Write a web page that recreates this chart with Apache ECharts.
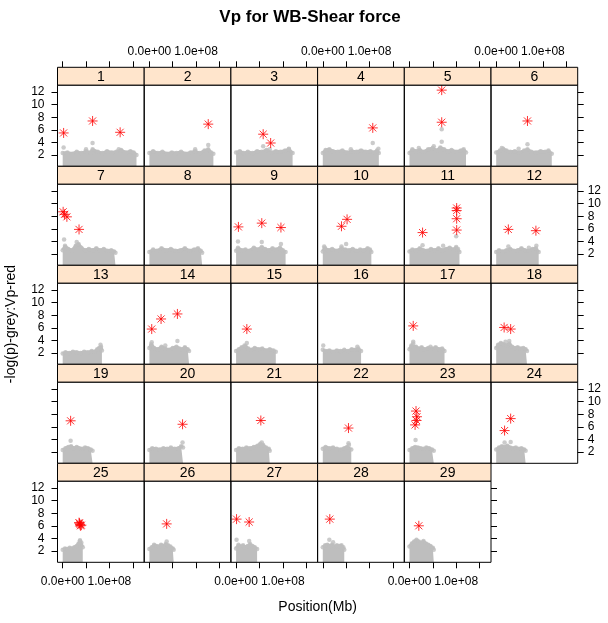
<!DOCTYPE html>
<html><head><meta charset="utf-8">
<script src="https://cdn.jsdelivr.net/npm/echarts@6/dist/echarts.min.js"></script>
<style>html,body{margin:0;padding:0;background:#fff}#c{width:608px;height:623px}</style>
</head><body><div id="c"></div>
<script>
// ---------- DATA ----------
const chartTitle = 'Vp for WB-Shear force';
const xTitle = 'Position(Mb)';
const yTitle = '-log(p)-grey:Vp-red';
const chromLabels = ['1','2','3','4','5','6','7','8','9','10','11','12','13','14','15','16','17','18','19','20','21','22','23','24','25','26','27','28','29'];
const chromLengthMb = [158,137,121,120,121,119,113,113,106,104,107,91,84,85,85,82,75,66,64,72,72,61,52,63,43,52,45,46,52];
const xTickValues = [0,50,100,150];   // Mb
const xLabelValues = [0,100];         // Mb -> 0.0e+00, 1.0e+08
const yTickValues = [2,4,6,8,10,12];

// upper edge of the dense grey cloud, [Mb, -log10 p]
const greyTop = [
 [[0,2.3],[10,2.4],[20,2.2],[30,2.5],[40,2.3],[50,2.6],[60,2.4],[64,2.9],[75,2.5],[85,2.3],[95,2.6],[105,2.4],[115,2.5],[125,2.8],[135,2.4],[145,2.6],[152,2.4],[158,2.0]],
 [[0,2.3],[8,2.6],[18,2.3],[28,2.5],[38,2.2],[48,2.4],[58,2.3],[68,2.5],[78,2.2],[88,2.4],[98,2.6],[108,2.3],[118,2.7],[126,2.9],[132,2.4],[137,2.2]],
 [[0,2.4],[8,2.6],[16,2.3],[25,2.5],[35,2.3],[45,2.6],[55,2.5],[65,2.8],[75,2.4],[85,2.6],[95,2.5],[105,2.7],[113,2.9],[121,2.3]],
 [[0,2.3],[6,2.8],[14,2.9],[22,2.6],[32,2.5],[42,2.7],[52,2.4],[62,2.6],[72,2.5],[82,2.7],[92,2.5],[102,2.6],[110,2.4],[116,2.7],[120,2.3]],
 [[0,2.3],[6,2.9],[14,2.6],[22,2.8],[30,2.5],[40,2.9],[50,3.1],[58,2.7],[66,3.2],[74,2.9],[82,2.6],[90,2.8],[100,2.5],[110,2.7],[116,2.9],[121,2.4]],
 [[0,2.4],[8,2.7],[15,3.0],[22,2.7],[30,2.5],[40,2.6],[50,2.4],[60,2.7],[67,2.9],[75,2.5],[85,2.4],[95,2.6],[105,2.5],[112,2.7],[119,2.2]],
 [[0,2.6],[5,3.3],[12,2.8],[20,2.6],[28,3.3],[34,3.6],[40,3.0],[48,2.6],[56,2.8],[64,2.6],[72,2.9],[80,2.6],[88,2.8],[96,2.5],[104,2.6],[110,2.4],[113,2.2]],
 [[0,2.3],[8,2.7],[16,2.5],[26,2.9],[36,2.6],[46,2.8],[56,2.5],[66,2.6],[76,2.9],[86,2.5],[96,2.7],[104,2.9],[110,2.5],[113,2.2]],
 [[0,2.5],[4,3.0],[12,2.6],[20,2.7],[28,2.5],[38,3.0],[46,2.7],[55,3.1],[62,2.8],[70,2.6],[78,2.9],[86,2.7],[94,3.0],[100,2.6],[106,2.3]],
 [[0,2.4],[4,3.0],[12,2.6],[20,2.8],[30,2.5],[40,2.9],[48,2.7],[56,2.6],[64,2.8],[72,2.5],[80,2.7],[88,2.6],[96,2.9],[101,2.7],[104,2.3]],
 [[0,2.4],[6,2.7],[14,2.6],[22,2.9],[30,2.6],[38,2.5],[46,2.8],[54,2.6],[62,2.9],[70,2.6],[78,2.8],[86,3.0],[94,2.7],[100,3.1],[104,2.8],[107,2.3]],
 [[0,2.3],[6,2.6],[14,2.4],[22,2.6],[30,2.8],[38,2.5],[46,2.6],[54,2.9],[62,2.6],[70,2.5],[78,2.8],[85,2.9],[91,2.3]],
 [[0,1.9],[6,2.1],[14,2.0],[22,2.2],[30,2.1],[38,2.0],[46,2.2],[54,2.1],[62,2.3],[68,2.2],[74,2.6],[78,2.8],[82,3.0],[84,2.4]],
 [[0,2.8],[4,3.4],[10,2.8],[18,2.6],[26,3.0],[34,2.7],[42,2.5],[50,2.8],[58,3.0],[64,2.7],[70,2.6],[76,2.9],[82,2.6],[85,2.3]],
 [[0,2.3],[6,2.6],[12,2.9],[20,3.1],[26,2.7],[32,2.5],[40,2.8],[48,2.6],[56,2.7],[64,2.4],[72,2.6],[80,2.4],[85,2.2]],
 [[0,2.5],[6,2.3],[14,2.4],[22,2.2],[30,2.4],[38,2.3],[46,2.5],[54,2.3],[62,2.6],[70,2.5],[76,2.7],[82,2.3]],
 [[0,2.6],[4,3.2],[8,3.5],[14,3.0],[20,2.7],[26,2.9],[32,2.6],[40,2.8],[48,2.7],[56,2.9],[64,2.6],[70,2.7],[75,2.3]],
 [[0,2.8],[4,3.3],[10,3.6],[16,3.4],[22,3.2],[28,3.5],[34,3.0],[40,2.8],[46,2.9],[52,2.7],[58,2.8],[63,2.6],[66,2.3]],
 [[0,2.3],[6,2.6],[12,2.8],[18,2.9],[24,2.6],[30,2.8],[36,2.6],[42,2.5],[48,2.7],[54,2.6],[60,2.4],[64,2.2]],
 [[0,2.3],[6,2.6],[14,2.5],[22,2.4],[30,2.6],[38,2.5],[46,2.7],[54,2.5],[62,2.6],[68,2.9],[72,2.7]],
 [[0,2.3],[6,2.6],[14,2.5],[22,2.7],[30,2.6],[38,2.8],[46,3.0],[52,3.3],[58,3.1],[64,2.7],[70,2.5],[72,2.2]],
 [[0,2.5],[6,2.8],[14,2.6],[22,2.7],[30,2.5],[38,2.4],[46,2.6],[52,2.8],[56,3.1],[61,2.4]],
 [[0,2.3],[6,2.6],[12,2.8],[18,2.7],[24,2.6],[30,2.5],[36,2.7],[42,2.6],[48,2.4],[52,2.2]],
 [[0,2.4],[6,2.7],[12,2.9],[18,2.8],[24,3.0],[30,2.7],[36,2.6],[42,2.7],[48,2.5],[54,2.6],[60,2.4],[63,2.2]],
 [[0,2.2],[5,2.4],[10,2.3],[15,2.5],[20,2.4],[25,2.6],[30,2.8],[34,3.2],[37,3.6],[40,3.3],[43,2.6]],
 [[0,2.3],[5,2.6],[10,3.0],[15,2.8],[20,2.7],[25,3.0],[30,2.8],[35,3.1],[40,2.9],[45,2.7],[50,2.4],[52,2.2]],
 [[0,2.4],[5,3.0],[10,2.7],[15,2.9],[20,2.6],[25,2.8],[30,3.1],[35,2.8],[40,2.6],[45,2.3]],
 [[0,2.6],[5,2.9],[10,3.0],[15,2.8],[20,3.0],[25,2.7],[30,2.9],[35,2.8],[40,2.9],[44,2.6],[46,2.2]],
 [[0,2.7],[5,3.2],[10,3.5],[15,3.8],[20,3.5],[25,3.3],[30,3.6],[35,3.2],[40,3.0],[45,2.8],[50,2.5],[52,2.2]]
];

// isolated grey SNPs above the cloud, [Mb, -log10 p]
const greyOutliers = [
 [[2,3.2],[64,3.9],[50,2.9],[120,2.9]],
 [[126,3.6],[98,2.9]],
 [[58,3.4],[72,2.9],[113,3.0]],
 [[107,3.9],[119,3.0],[60,2.9]],
 [[69,4.1],[69,6.1],[20,3.1],[52,3.4]],
 [[67,3.7],[12,3.1],[48,3.0]],
 [[3,4.3],[30,3.9]],
 [],
 [[4,4.0],[55,3.9],[96,3.6]],
 [[3,3.2],[50,3.6],[40,3.2]],
 [[28,3.4],[100,4.8],[72,3.3]],
 [[26,3.2],[86,3.3],[70,3.0]],
 [[81,3.3]],
 [[5,3.7],[60,3.9],[34,3.2]],
 [[23,3.6],[18,3.2]],
 [[1,3.2],[74,3.0]],
 [[8,3.8],[45,3.0]],
 [[28,3.9],[20,3.8]],
 [[17,3.8]],
 [[71,3.5]],
 [[55,3.5]],
 [[55,3.4]],
 [[13,3.9]],
 [[18,3.5],[31,3.6]],
 [[37,3.7]],
 [[37,3.5]],
 [[1,3.8],[28,3.6]],
 [[14,3.8],[22,3.4]],
 []
];

// red Vp hits, [Mb, -log10 p]
const redHits = [
 [[2,5.5],[64,7.4],[123,5.6]],
 [[126,6.9]],
 [[58,5.3],[74,3.9]],
 [[107,6.3]],
 [[69,12.3],[69,7.2]],
 [[67,7.4]],
 [[1,8.7],[4,8.3],[9,7.9],[35,5.9]],
 [],
 [[5,6.3],[55,6.9],[96,6.2]],
 [[40,6.4],[52,7.5]],
 [[28,5.4],[101,9.3],[101,8.9],[101,7.6],[101,5.8]],
 [[26,5.9],[85,5.7]],
 [],
 [[5,5.8],[25,7.4],[60,8.2]],
 [[23,5.8]],
 [],
 [[8,6.3]],
 [[17,6.05],[31,5.8]],
 [[17,6.95]],
 [[71,6.4]],
 [[53,7.0]],
 [[55,5.8]],
 [[14,8.5],[16,7.6],[15,7.0],[12,6.3]],
 [[18,5.4],[31,7.3]],
 [[35,6.5],[37,6.2],[38,6.0],[40,6.1],[36,6.4]],
 [[37,6.3]],
 [[1,7.06],[28,6.6]],
 [[15,7.06]],
 [[20,6.0]]
];

// ---------- LAYOUT ----------
const FONT = '"Liberation Sans", Arial, Helvetica, sans-serif';
const PL = 57.5, PW = 86.7, ST = 67.3, SH = 17.8, PH = 81.2, RP = SH + PH, NCOL = 6;
const XMIN = -11.1, XMAX = 174.5, YMIN = 0.2, YMAX = 13.1;
const GREY = '#bebebe', RED = '#ff0000', STRIP = '#ffe5cc';
const STAR = 'path://M0,5L10,5M5,0L5,10M1.46,1.46L8.54,8.54M1.46,8.54L8.54,1.46';

function sci(v) {
  const s = (v * 1e6).toExponential(1);
  let parts = s.split('e');
  let e = parts[1];
  const sign = e[0] === '-' ? '-' : '+';
  e = e.replace(/[+-]/, '');
  if (e.length < 2) e = '0' + e;
  return parts[0] + 'e' + sign + e;
}

const grid = [], xAxis = [], yAxis = [], series = [], graphic = [];
const tickStyle = { color: '#000', width: 1 };
const labStyle = { fontSize: 12, color: '#000', fontFamily: FONT };
const noLine = { show: false, onZero: false };

chromLabels.forEach((lab, i) => {
  const r = Math.floor(i / NCOL), c = i % NCOL;
  const left = PL + c * PW, stripTop = ST + r * RP, top = stripTop + SH;
  grid.push({ left: left, top: top, width: PW, height: PH, show: false, outerBoundsMode: 'none' });

  const xi = xAxis.length;
  xAxis.push({ gridIndex: i, type: 'value', min: XMIN, max: XMAX, position: 'bottom',
    axisLine: noLine, splitLine: { show: false },
    axisTick: { show: r === 4, customValues: xTickValues, length: 6, lineStyle: tickStyle },
    axisLabel: Object.assign({ show: r === 4 && c % 2 === 0, customValues: xLabelValues, formatter: sci, margin: 13 }, labStyle) });
  if (r === 0) {
    xAxis.push({ gridIndex: i, type: 'value', min: XMIN, max: XMAX, position: 'top', offset: SH,
      axisLine: noLine, splitLine: { show: false },
      axisTick: { show: true, customValues: xTickValues, length: 6, lineStyle: tickStyle },
      axisLabel: Object.assign({ show: c % 2 === 1, customValues: xLabelValues, formatter: sci, margin: 10 }, labStyle) });
  }
  const yi = yAxis.length;
  yAxis.push({ gridIndex: i, type: 'value', min: YMIN, max: YMAX, position: 'left',
    axisLine: noLine, splitLine: { show: false },
    axisTick: { show: c === 0, customValues: yTickValues, length: 6, lineStyle: tickStyle },
    axisLabel: Object.assign({ show: c === 0 && r % 2 === 0, customValues: yTickValues, margin: 13 }, labStyle) });
  if (c === NCOL - 1 || i === chromLabels.length - 1) {
    yAxis.push({ gridIndex: i, type: 'value', min: YMIN, max: YMAX, position: 'right',
      axisLine: noLine, splitLine: { show: false },
      axisTick: { show: true, customValues: yTickValues, length: 6, lineStyle: tickStyle },
      axisLabel: Object.assign({ show: c === NCOL - 1 && r % 2 === 1, customValues: yTickValues, margin: 10 }, labStyle) });
  }

  series.push({ type: 'line', xAxisIndex: xi, yAxisIndex: yi, data: greyTop[i], symbol: 'none',
    lineStyle: { color: GREY, width: 3 }, areaStyle: { color: GREY, opacity: 1, origin: 'start' },
    z: 1, silent: true });
  series.push({ type: 'scatter', xAxisIndex: xi, yAxisIndex: yi, data: greyTop[i].concat(greyOutliers[i]),
    symbol: 'circle', symbolSize: 4.5, itemStyle: { color: GREY }, z: 2, silent: true });
  series.push({ type: 'scatter', xAxisIndex: xi, yAxisIndex: yi, data: redHits[i],
    symbol: STAR, symbolSize: 10,
    itemStyle: { color: 'rgba(0,0,0,0)', borderColor: RED, borderWidth: 1 }, z: 5, silent: true });

  graphic.push({ type: 'rect', shape: { x: left, y: top, width: PW, height: PH },
    style: { fill: 'none', stroke: '#000', lineWidth: 1 }, z: 100, silent: true });
  graphic.push({ type: 'rect', shape: { x: left, y: stripTop, width: PW, height: SH },
    style: { fill: STRIP, stroke: '#000', lineWidth: 1 }, z: 100, silent: true });
  graphic.push({ type: 'text', x: left + PW / 2, y: stripTop + SH / 2 + 0.5, z: 101, silent: true,
    style: { text: lab, align: 'center', verticalAlign: 'middle', font: '14px ' + FONT, fill: '#000' } });
});

graphic.push({ type: 'text', x: 310, y: 17, z: 101, silent: true,
  style: { text: chartTitle, align: 'center', verticalAlign: 'middle', font: 'bold 17px ' + FONT, fill: '#000' } });
graphic.push({ type: 'text', x: 317.6, y: 607, z: 101, silent: true,
  style: { text: xTitle, align: 'center', verticalAlign: 'middle', font: '14px ' + FONT, fill: '#000' } });
graphic.push({ type: 'text', x: 11, y: 324, rotation: Math.PI / 2, z: 101, silent: true,
  style: { text: yTitle, align: 'center', verticalAlign: 'middle', font: '14px ' + FONT, fill: '#000' } });

const chart = echarts.init(document.getElementById('c'), null, { renderer: 'canvas' });
chart.setOption({ animation: false, backgroundColor: '#fff', grid, xAxis, yAxis, series, graphic });
</script></body></html>
